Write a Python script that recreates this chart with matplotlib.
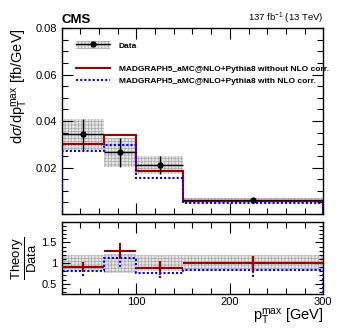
import numpy as np
import matplotlib
matplotlib.use("Agg")
import matplotlib.pyplot as plt
from matplotlib.patches import Rectangle
from matplotlib.lines import Line2D
from matplotlib.ticker import MultipleLocator, FixedLocator

# bins in pT max [GeV]
edges = np.array([20, 65, 100, 150, 300])

# measured cross section [fb/GeV] and its total uncertainty
data = np.array([0.0342, 0.0265, 0.0210, 0.0059])
data_err = np.array([0.0067, 0.0061, 0.0040, 0.0011])

# MC predictions [fb/GeV]
mc_no_corr = np.array([0.0303, 0.0338, 0.0183, 0.0056])
mc_corr = np.array([0.0269, 0.0296, 0.0157, 0.0048])

# theory / data ratios
ratio_no_corr = np.array([0.90, 1.29, 0.89, 1.00])
ratio_no_corr_err = np.array([0.12, 0.20, 0.17, 0.17])
ratio_corr = np.array([0.80, 1.13, 0.77, 0.84])
ratio_corr_err = np.array([0.12, 0.22, 0.13, 0.18])

red = "#a00000"
blue = "#0000ff"
band_face = "#e4e4e4"
band_hatch = "#aaaaaa"
band_pattern = "+++++"

plt.rcParams["font.family"] = ["Liberation Sans", "DejaVu Sans"]
plt.rcParams["mathtext.fontset"] = "custom"
plt.rcParams["mathtext.rm"] = "Liberation Sans"
plt.rcParams["mathtext.it"] = "Liberation Sans:italic"
plt.rcParams["mathtext.bf"] = "Liberation Sans:bold"
plt.rcParams["hatch.linewidth"] = 0.5

centers = 0.5 * (edges[1:] + edges[:-1])
widths = edges[1:] - edges[:-1]

fig = plt.figure(figsize=(3.41, 3.30), dpi=100)
ax = fig.add_axes([0.181, 0.3515, 0.767, 0.5636])
rax = fig.add_axes([0.181, 0.109, 0.767, 0.219])

# ---- main panel ----
ax.bar(centers, 2 * data_err, width=widths, bottom=data - data_err,
       color=band_face, hatch=band_pattern, edgecolor=band_hatch, linewidth=0,
       zorder=1)
ax.stairs(mc_no_corr, edges, baseline=0, color=red, lw=1.5, zorder=2)
ax.stairs(mc_corr, edges, baseline=0, color=blue, lw=1.5,
          linestyle=(0, (1, 1)), zorder=3)
ax.errorbar(centers, data, xerr=widths / 2, yerr=data_err, fmt="o", color="k",
            ms=3.5, lw=1.0, capsize=0, zorder=4)

ax.set_xlim(20, 300)
ax.set_ylim(0, 0.08)
ax.yaxis.set_major_locator(FixedLocator([0.02, 0.04, 0.06, 0.08]))
ax.yaxis.set_minor_locator(MultipleLocator(0.005))
ax.xaxis.set_major_locator(MultipleLocator(100))
ax.xaxis.set_minor_locator(MultipleLocator(20))
ax.set_xticklabels([])
ax.yaxis.set_major_formatter(plt.FuncFormatter(lambda v, p: f"{v:.2f}"))
ax.set_ylabel(r"d$\sigma$/dp$_{\mathrm{T}}^{\mathrm{max}}$ [fb/GeV]",
              fontsize=10.5, loc="top", labelpad=4)

ax.text(0.0, 1.012, "CMS", transform=ax.transAxes, fontsize=9.5,
        fontweight="bold", ha="left", va="bottom")
ax.text(1.0, 1.012, r"137 fb$^{-1}$ (13 TeV)", transform=ax.transAxes,
        fontsize=6.8, ha="right", va="bottom")

# legend
data_handle = (Rectangle((0, 0), 1, 1, facecolor=band_face, hatch=band_pattern,
                         edgecolor=band_hatch, linewidth=0),
               Line2D([], [], color="k", marker="o", ms=3.5, lw=1.0))
leg_font = {"size": 6.0, "weight": "bold"}
leg1 = ax.legend([data_handle], ["Data"], loc="center left",
                 bbox_to_anchor=(0.055, 0.907), frameon=False, borderpad=0,
                 borderaxespad=0, handlelength=4.1, handleheight=1.1,
                 handletextpad=1.0, prop=leg_font)
ax.add_artist(leg1)
mc_handles = [Line2D([], [], color=red, lw=1.5),
              Line2D([], [], color=blue, lw=1.5, linestyle=(0, (1, 1)))]
ax.legend(mc_handles,
          ["MADGRAPH5_aMC@NLO+Pythia8 without NLO corr.",
           "MADGRAPH5_aMC@NLO+Pythia8 with NLO corr."],
          loc="center left", bbox_to_anchor=(0.055, 0.747), frameon=False,
          borderpad=0, borderaxespad=0, handlelength=4.1, handletextpad=1.0,
          labelspacing=0.5, prop=leg_font)

# ---- ratio panel ----
rel = data_err / data
rax.bar(centers, 2 * rel, width=widths, bottom=1 - rel, color=band_face,
        hatch=band_pattern, edgecolor=band_hatch, linewidth=0, zorder=1)
rax.stairs(ratio_corr, edges, baseline=0, color=blue, lw=1.5,
           linestyle=(0, (1, 1)), zorder=2)
eb = rax.errorbar(centers, ratio_corr, yerr=ratio_corr_err, fmt="none",
                  color=blue, lw=1.5, capsize=0, zorder=2)
eb[2][0].set_linestyle((0, (1, 1)))
rax.errorbar(centers, ratio_no_corr, xerr=widths / 2, yerr=ratio_no_corr_err,
             fmt="none", color=red, lw=1.5, capsize=0, zorder=3)

rax.set_xlim(20, 300)
rax.set_ylim(0.25, 2.0)
rax.yaxis.set_major_locator(FixedLocator([0.5, 1.0, 1.5]))
rax.yaxis.set_minor_locator(MultipleLocator(0.1))
rax.xaxis.set_major_locator(MultipleLocator(100))
rax.xaxis.set_minor_locator(MultipleLocator(20))
rax.set_yticklabels(["0.5", "1", "1.5"])
rax.set_xlabel(r"p$_{\mathrm{T}}^{\mathrm{max}}$ [GeV]", fontsize=10.5,
               loc="right", labelpad=0)
rax.set_ylabel(r"$\dfrac{\mathrm{Theory}}{\mathrm{Data}}$", fontsize=9.5,
               labelpad=2)

for a, major, minor in [(ax, 8, 4.5), (rax, 6, 3)]:
    a.tick_params(which="both", direction="in", top=True, right=True,
                  labelsize=8, width=0.8)
    a.tick_params(which="major", length=major)
    a.tick_params(which="minor", length=minor)
    for s in a.spines.values():
        s.set_linewidth(1.0)
rax.tick_params(axis="x", which="major", length=8, pad=2)
rax.tick_params(axis="x", which="minor", length=4.5)

fig.savefig("out.png", dpi=100)
